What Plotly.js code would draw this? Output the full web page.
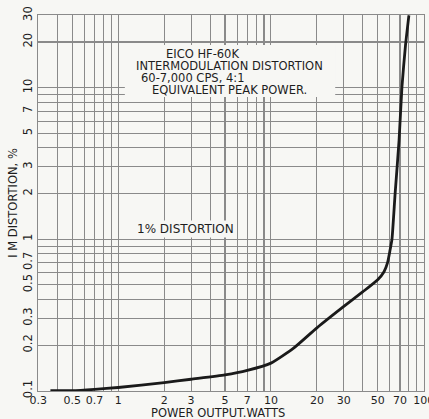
<!DOCTYPE html>
<html>
<head>
<meta charset="utf-8">
<script src="https://cdn.plot.ly/plotly-3.0.1.min.js"></script>
<style>html,body{margin:0;padding:0;background:#f7f7f4;}</style>
</head>
<body>
<div id="chart" style="width:429px;height:419px;"></div>
<script>
// Curve: power output (W) vs IM distortion (%)
const powerWatts = [0.36, 0.5, 0.7, 1, 2, 3, 5, 7, 10, 14, 20, 30, 40, 50, 55, 58, 60, 62, 65, 69, 72, 76, 80];
const imDistortion = [0.1, 0.1, 0.102, 0.105, 0.113, 0.119, 0.127, 0.136, 0.152, 0.19, 0.26, 0.36, 0.45, 0.54, 0.61, 0.7, 0.83, 1.0, 2.0, 4.5, 10, 19, 30];

// Grid / tick values (log paper)
const xGrid = [0.3,0.4,0.5,0.6,0.7,0.8,0.9,1,2,3,4,5,6,7,8,9,10,20,30,40,50,60,70,80,90,100];
const xLabeled = [0.3,0.5,0.7,1,2,3,5,7,10,20,30,50,70,100];
const yGrid = [0.1,0.2,0.3,0.4,0.5,0.6,0.7,0.8,0.9,1,2,3,4,5,6,7,8,9,10,20,30];
const yLabeled = [0.1,0.2,0.3,0.5,0.7,1,2,3,5,7,10,20,30];

const titleLines = ["EICO HF-60K", "INTERMODULATION DISTORTION", "60-7,000 CPS, 4:1", "EQUIVALENT PEAK POWER."];
const refLabel = "1% DISTORTION";
const xTitle = "POWER OUTPUT.WATTS";
const yTitle = "I M DISTORTION, %";

const fmt = v => String(v);
const xText = xGrid.map(v => xLabeled.includes(v) ? fmt(v) : "");
const yText = yGrid.map(v => yLabeled.includes(v) ? fmt(v) : "");

const ink = "#1e1e1e";
const gridCol = "#8a8a8a";
const font = "DejaVu Sans, sans-serif";
const bg = "#f7f7f4";

const trace = {
  x: powerWatts, y: imDistortion, type: "scatter", mode: "lines",
  line: {color: "#1a1a1a", width: 2.8, shape: "spline", smoothing: 0.5},
  hoverinfo: "skip", showlegend: false
};

const titleX = [0.427, 0.497, 0.40, 0.497];
const titleY = [0.897, 0.864, 0.832, 0.800];
const annotations = titleLines.map((t, i) => ({
  text: t, xref: "paper", yref: "paper", x: titleX[i], y: titleY[i],
  xanchor: "center", yanchor: "middle", showarrow: false,
  font: {family: font, size: 11.5, color: ink}
}));
annotations.push({
  text: refLabel, xref: "paper", yref: "y", x: 0.252, y: Math.log10(1),
  xanchor: "left", yanchor: "bottom", showarrow: false, yshift: 1,
  font: {family: font, size: 12, color: ink}, bgcolor: bg, borderpad: 1
});
annotations.push({
  text: xTitle, xref: "paper", yref: "paper", x: 0.467, y: 0, yshift: -22,
  xanchor: "center", yanchor: "middle", showarrow: false,
  font: {family: font, size: 11.5, color: ink}
});

const eps = 0.002;
const layout = {
  width: 429, height: 419,
  margin: {l: 38, r: 5, t: 15, b: 28},
  paper_bgcolor: bg, plot_bgcolor: bg,
  showlegend: false,
  xaxis: {
    type: "log", range: [Math.log10(0.3) - eps, Math.log10(100) + eps],
    tickvals: xGrid, ticktext: xText, ticks: "",
    showgrid: true, gridcolor: gridCol, gridwidth: 1.1,
    showline: true, linecolor: gridCol, linewidth: 1.2, mirror: true,
    zeroline: false, tickangle: 0, ticklabeloverflow: "allow",
    ticklabelstandoff: -1,
    tickfont: {family: font, size: 11, color: ink}
  },
  yaxis: {
    type: "log", range: [Math.log10(0.1) - eps, Math.log10(30) + eps],
    tickvals: yGrid, ticktext: yText, ticks: "",
    showgrid: true, gridcolor: gridCol, gridwidth: 1.1,
    showline: true, linecolor: gridCol, linewidth: 1.2, mirror: true,
    zeroline: false, tickangle: -90, ticklabeloverflow: "allow",
    tickfont: {family: font, size: 11.5, color: ink},
    title: {text: yTitle, font: {family: font, size: 11.5, color: ink}, standoff: 1}
  },
  shapes: [{
    type: "rect", xref: "paper", yref: "paper", layer: "above",
    x0: 0.225, x1: 0.77, y0: 0.782, y1: 0.92,
    fillcolor: bg, line: {width: 0}
  }],
  annotations: annotations
};

Plotly.newPlot("chart", [trace], layout, {staticPlot: true, displayModeBar: false});
</script>
</body>
</html>
